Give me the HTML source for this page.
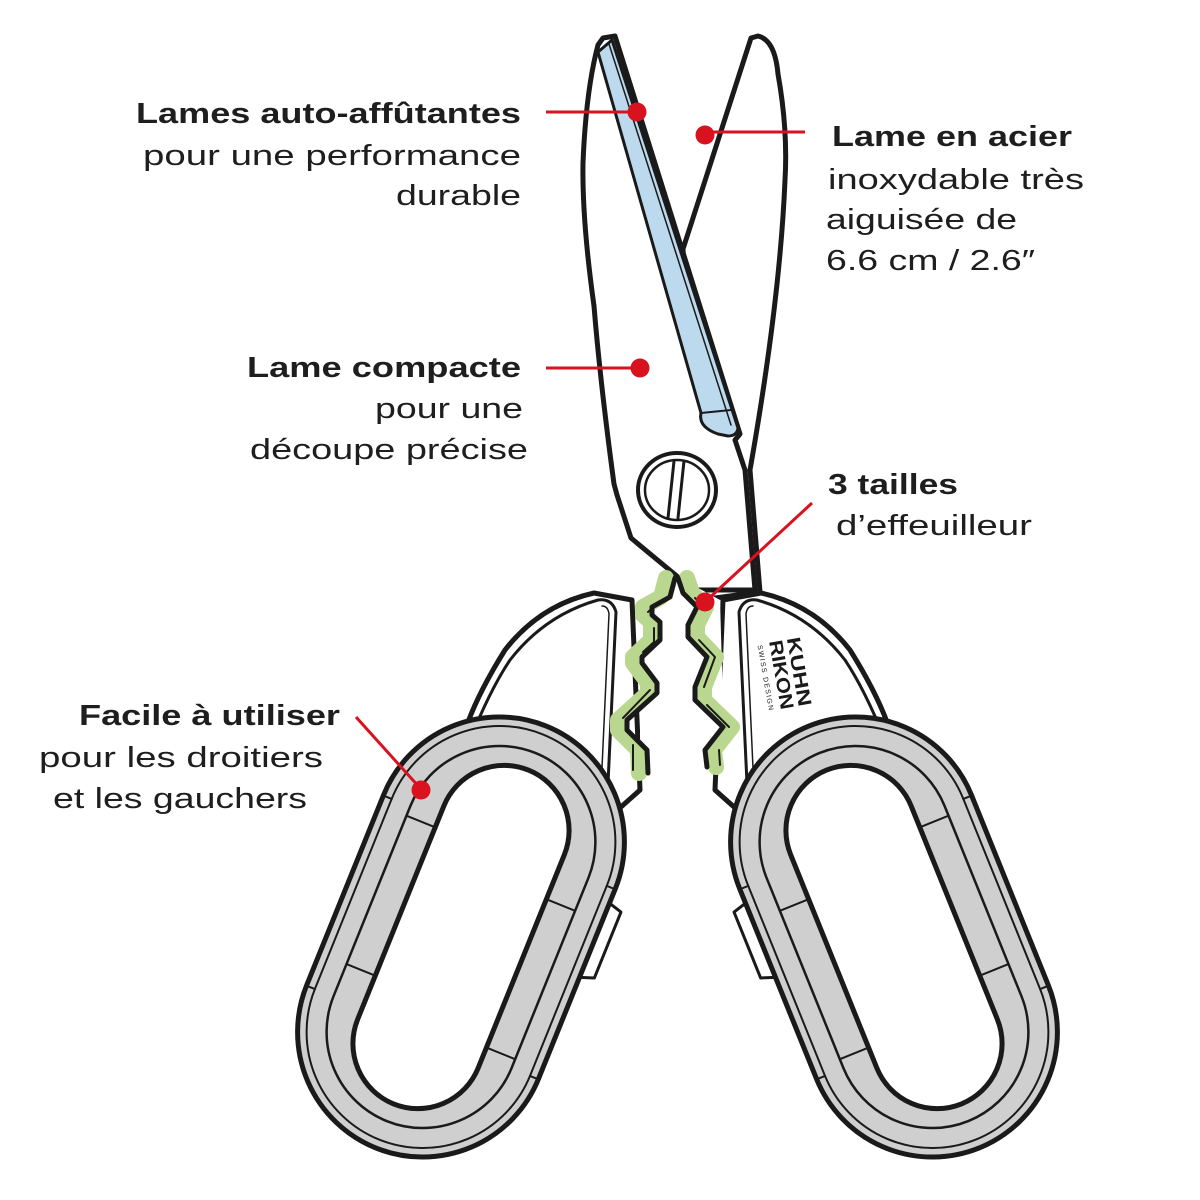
<!DOCTYPE html>
<html><head><meta charset="utf-8"><style>
html,body{margin:0;padding:0;background:#fff;}
svg{display:block;}
.b{font-family:"Liberation Sans",sans-serif;font-weight:bold;font-size:29px;fill:#1e1e1e;}
.r{font-family:"Liberation Sans",sans-serif;font-size:29px;fill:#1e1e1e;}
</style></head><body>
<svg width="1200" height="1200" viewBox="0 0 1200 1200" xmlns="http://www.w3.org/2000/svg">
<rect width="1200" height="1200" fill="#fff"/>
<g stroke="#1a1a1a" stroke-linejoin="round" stroke-linecap="round">
<path d="M751,38 L758,36 Q775,40 778,74 Q788,130 785,180 Q780,300 750,470 L760,592 L700,600 L683,249 Z" fill="#fff" stroke-width="5"/>
<path d="M598,45 L603,38 L615,36 L740,434 L735,440 L745,470 L755,590 L690,590 L678,577 L631,538 L617,495 L614,484 Q600,380 594,306 Q582,220 583,163 Q586,90 598,45 Z" fill="#fff" stroke-width="5"/>
<path d="M598,52 L612,40 L738,428 Q737,436 728,436 L718,434 Q698,427 701,413 Z" fill="#bcd9ee" stroke-width="3"/>
<line x1="609" y1="44" x2="731" y2="425" stroke-width="1.5"/>
<line x1="701" y1="413" x2="731" y2="410" stroke-width="2"/>
<ellipse cx="677" cy="490" rx="39" ry="37" fill="#fff" stroke-width="4"/>
<ellipse cx="677" cy="490" rx="32" ry="30" fill="none" stroke-width="2.5"/>
<path d="M674,461 L668,518 M684,461 L678,518" fill="none" stroke-width="3"/>

<g>
<path d="M594,593 Q540,605 505,650 Q480,690 468,722 Q440,745 420,760 L560,770 L612,815 L640,790 L632,600 Z" fill="#fff" stroke-width="5"/>
<path d="M598,600 Q612,598 616,612 L607,805 L598,790 Q560,760 470,740 Q490,690 510,660 Q545,615 598,600 Z" fill="#fff" stroke-width="3"/>
<path d="M602,606 Q608,606 609,614 L601,790" fill="none" stroke-width="1.5"/>
</g>
<g transform="translate(1355,0) scale(-1,1)">
<path d="M594,593 Q540,605 505,650 Q480,690 468,722 Q440,745 420,760 L560,770 L612,815 L640,790 L632,600 Z" fill="#fff" stroke-width="5"/>
<path d="M598,600 Q612,598 616,612 L607,805 L598,790 Q560,760 470,740 Q490,690 510,660 Q545,615 598,600 Z" fill="#fff" stroke-width="3"/>
<path d="M602,606 Q608,606 609,614 L601,790" fill="none" stroke-width="1.5"/>
</g>
<path d="M640,600 L675,578 L680,578 L720,600 L725,770 L640,775 Z" fill="#fff" stroke="none"/>
<path transform="translate(-9,0)" d="M675,578 L670,597 L652,607 L652,615 L660,622 L660,640 L642,657 L642,663 L657,683 L657,693 L627,720 L627,730 L647,750 L648,773" fill="none" stroke="#b9d78e" stroke-width="16"/>
<path transform="translate(9,0)" d="M678,578 L683,593 L697,607 L688,625 L688,637 L707,657 L695,687 L695,700 L723,727 L705,750 L707,767" fill="none" stroke="#b9d78e" stroke-width="16"/>
<path d="M675,578 L670,597 L652,607 L652,615 L660,622 L660,640 L642,657 L642,663 L657,683 L657,693 L627,720 L627,730 L647,750 L648,773" fill="none" stroke-width="5"/>
<path d="M678,578 L683,593 L697,607 L688,625 L688,637 L707,657 L695,687 L695,700 L723,727 L705,750 L707,767" fill="none" stroke-width="5"/>
<path transform="translate(-7,0)" d="M664,604 L655,612 M661,628 L661,642 L650,652 M657,690 L630,718 M640,745 L640,770" fill="none" stroke-width="2"/>
<path transform="translate(7,0)" d="M688,598 L698,607 M692,640 L708,657 L697,687 M700,705 L722,727 M712,750 L713,765" fill="none" stroke-width="2"/>

<g transform="rotate(22 461 937)">
<path d="M586,850 L600,854 L600,925 L586,930" fill="#fff" stroke-width="3"/>
<rect x="336" y="709.5" width="250" height="455" rx="125" fill="#cfcfcf" stroke-width="5"/>
<rect x="345" y="718.5" width="232" height="437" rx="116" fill="none" stroke-width="2"/>
<rect x="365" y="738.5" width="192" height="397" rx="96" fill="none" stroke-width="2.5"/>
<rect x="396" y="757" width="130" height="360" rx="65" fill="#fff" stroke-width="5"/>
<path d="M336,835 L345,835 M577,835 L586,835 M365,845 L396,845 M526,870 L557,870 M336,1040 L345,1040 M577,1040 L586,1040 M365,1005 L396,1005 M526,1030 L557,1030" stroke-width="2"/>
</g>
<g transform="translate(1355,0) scale(-1,1)">
<g transform="rotate(22 461 937)">
<path d="M586,850 L600,854 L600,925 L586,930" fill="#fff" stroke-width="3"/>
<rect x="336" y="709.5" width="250" height="455" rx="125" fill="#cfcfcf" stroke-width="5"/>
<rect x="345" y="718.5" width="232" height="437" rx="116" fill="none" stroke-width="2"/>
<rect x="365" y="738.5" width="192" height="397" rx="96" fill="none" stroke-width="2.5"/>
<rect x="396" y="757" width="130" height="360" rx="65" fill="#fff" stroke-width="5"/>
<path d="M336,835 L345,835 M577,835 L586,835 M365,845 L396,845 M526,870 L557,870 M336,1040 L345,1040 M577,1040 L586,1040 M365,1005 L396,1005 M526,1030 L557,1030" stroke-width="2"/>
</g>
</g>
</g>

<g transform="rotate(80 780 675)" font-family="Liberation Sans, sans-serif" fill="#1a1a1a">
<text x="780" y="662" font-size="19" font-weight="bold" text-anchor="middle" textLength="70" lengthAdjust="spacingAndGlyphs">KUHN</text>
<text x="780" y="680" font-size="19" font-weight="bold" text-anchor="middle" textLength="70" lengthAdjust="spacingAndGlyphs">RIKON</text>
<text x="780" y="692" font-size="7" text-anchor="middle" textLength="66" lengthAdjust="spacing">SWISS DESIGN</text>
</g>

<g stroke="#d8121f" stroke-width="3" fill="none">
<line x1="546" y1="112" x2="637" y2="112"/>
<line x1="705" y1="132" x2="805" y2="132"/>
<line x1="546" y1="368" x2="640" y2="368"/>
<line x1="812" y1="503" x2="705" y2="602"/>
<line x1="356" y1="717" x2="420" y2="788"/>
</g>
<g fill="#d8121f">
<circle cx="637" cy="112" r="9.5"/><circle cx="705" cy="135" r="9.5"/>
<circle cx="640" cy="368" r="9.5"/><circle cx="705" cy="602" r="9.5"/>
<circle cx="421" cy="790" r="9.5"/>
</g>

<text class="b" x="136" y="123" textLength="385" lengthAdjust="spacingAndGlyphs">Lames auto-affûtantes</text>
<text class="r" x="143" y="165" textLength="378" lengthAdjust="spacingAndGlyphs">pour une performance</text>
<text class="r" x="396" y="205" textLength="125" lengthAdjust="spacingAndGlyphs">durable</text>
<text class="b" x="832" y="146" textLength="240" lengthAdjust="spacingAndGlyphs">Lame en acier</text>
<text class="r" x="828" y="189" textLength="256" lengthAdjust="spacingAndGlyphs">inoxydable très</text>
<text class="r" x="826" y="229" textLength="191" lengthAdjust="spacingAndGlyphs">aiguisée de</text>
<text class="r" x="826" y="270" textLength="209" lengthAdjust="spacingAndGlyphs">6.6 cm / 2.6″</text>
<text class="b" x="247" y="377" textLength="274" lengthAdjust="spacingAndGlyphs">Lame compacte</text>
<text class="r" x="375" y="418" textLength="148" lengthAdjust="spacingAndGlyphs">pour une</text>
<text class="r" x="250" y="459" textLength="278" lengthAdjust="spacingAndGlyphs">découpe précise</text>
<text class="b" x="828" y="494" textLength="130" lengthAdjust="spacingAndGlyphs">3 tailles</text>
<text class="r" x="836" y="535" textLength="196" lengthAdjust="spacingAndGlyphs">d’effeuilleur</text>
<text class="b" x="79" y="725" textLength="261" lengthAdjust="spacingAndGlyphs">Facile à utiliser</text>
<text class="r" x="39" y="767" textLength="284" lengthAdjust="spacingAndGlyphs">pour les droitiers</text>
<text class="r" x="53" y="808" textLength="254" lengthAdjust="spacingAndGlyphs">et les gauchers</text>
</svg>
</body></html>
